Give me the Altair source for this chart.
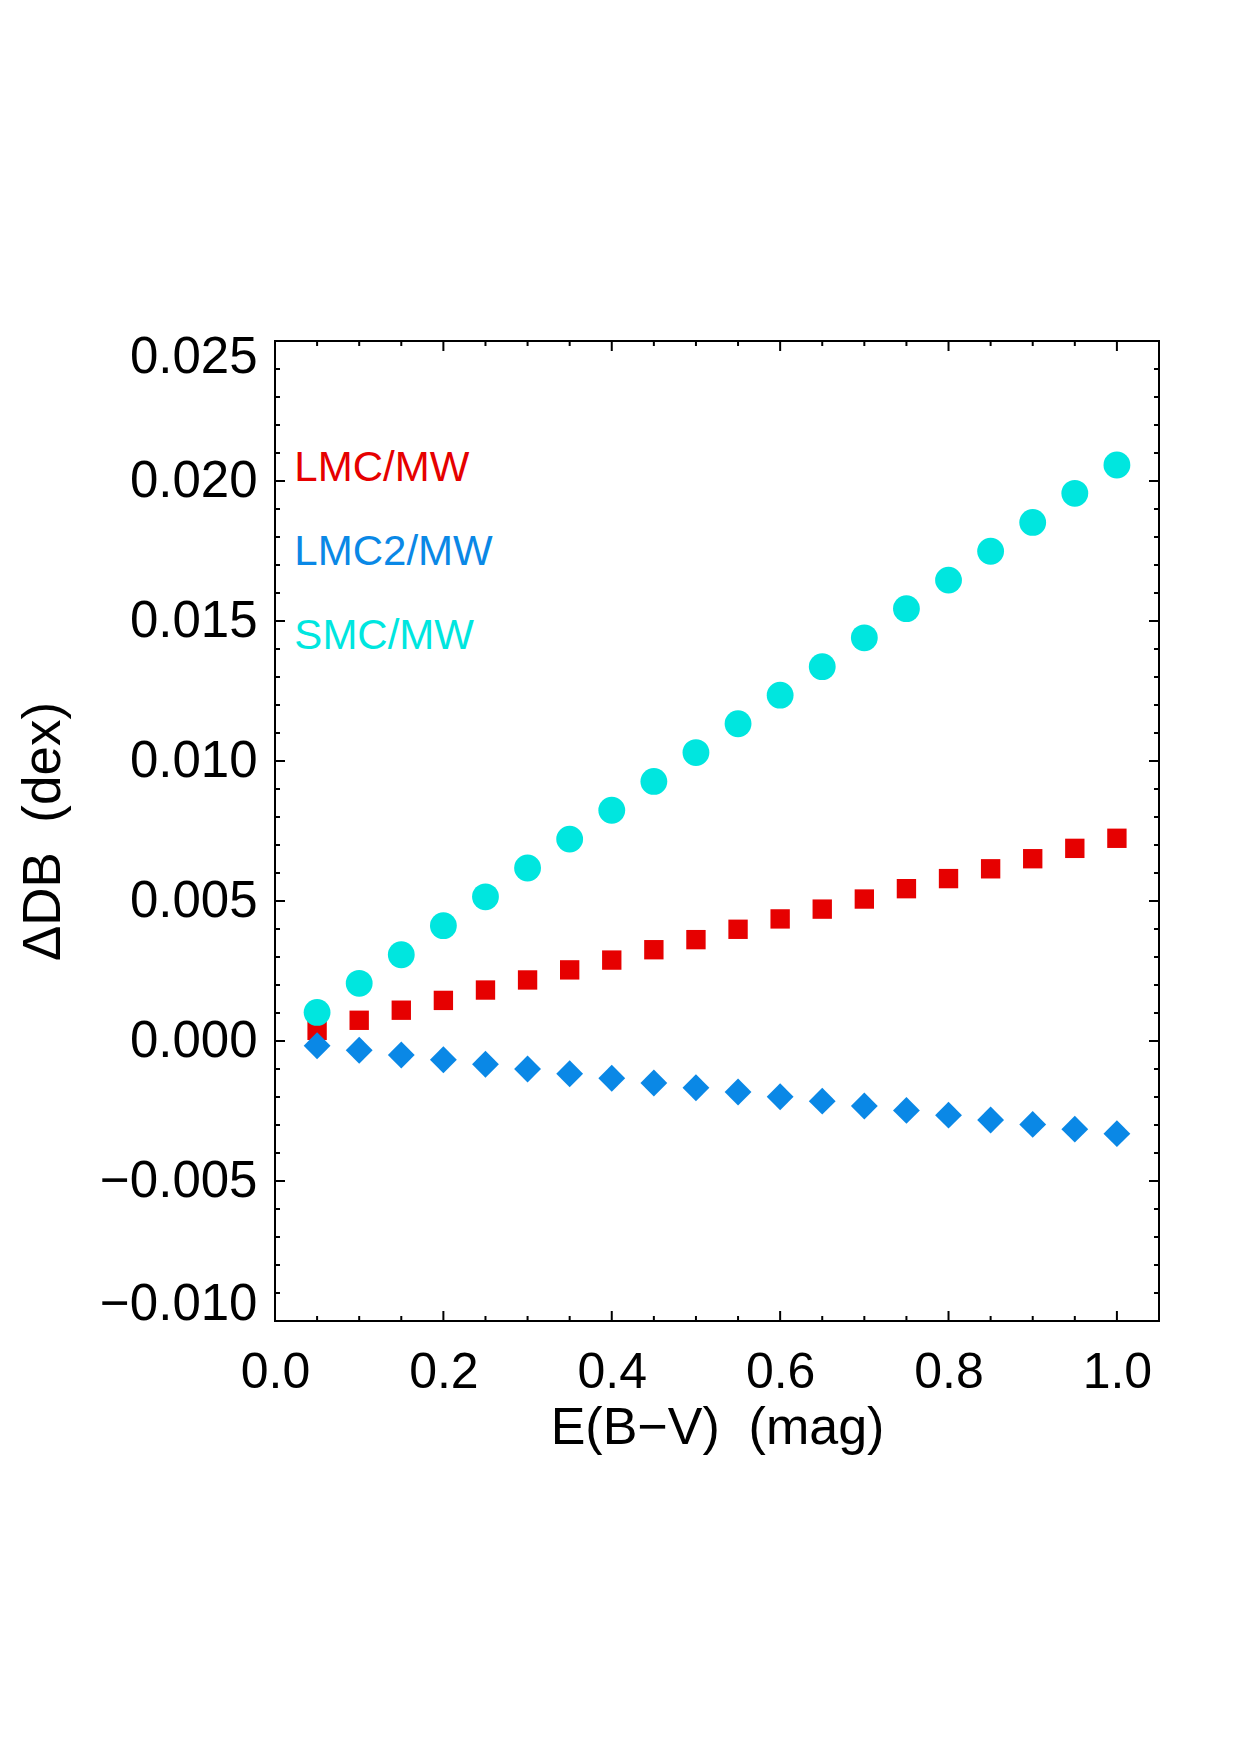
import altair as alt
import pandas as pd

# ---- data ----
ebv = [0.05, 0.10, 0.15, 0.20, 0.25, 0.30, 0.35, 0.40, 0.45, 0.50,
       0.55, 0.60, 0.65, 0.70, 0.75, 0.80, 0.85, 0.90, 0.95, 1.00]
lmc_mw = [0.00038, 0.00074, 0.00110, 0.00145, 0.00182, 0.00218, 0.00254, 0.00289, 0.00326, 0.00362,
          0.00399, 0.00436, 0.00471, 0.00507, 0.00544, 0.00580, 0.00615, 0.00651, 0.00688, 0.00724]
lmc2_mw = [-0.00017, -0.00033, -0.00050, -0.00067, -0.00083, -0.00100, -0.00117, -0.00133, -0.00150, -0.00167,
           -0.00182, -0.00199, -0.00215, -0.00232, -0.00248, -0.00265, -0.00282, -0.00298, -0.00315, -0.00331]
smc_mw = [0.00102, 0.00206, 0.00308, 0.00412, 0.00515, 0.00618, 0.00721, 0.00824, 0.00927, 0.01030,
          0.01133, 0.01235, 0.01337, 0.01440, 0.01544, 0.01646, 0.01749, 0.01852, 0.01956, 0.02057]

series_names = ["LMC/MW", "LMC2/MW", "SMC/MW"]
series_colors = ["#E60000", "#0A88E6", "#00E6DF"]
label_x = [0.023, 0.023, 0.023]
label_y = [0.0200, 0.0170, 0.0140]

x_major = [0.0, 0.2, 0.4, 0.6, 0.8, 1.0]
x_minor = [0.05, 0.10, 0.15, 0.25, 0.30, 0.35, 0.45, 0.50, 0.55, 0.65, 0.70, 0.75, 0.85, 0.90, 0.95]
y_major = [-0.010, -0.005, 0.000, 0.005, 0.010, 0.015, 0.020, 0.025]
y_minor = [round(-0.010 + 0.001 * i, 3) for i in range(36) if i % 5 != 0]

X_TITLE = "E(B\u2212V)\u00a0\u00a0(mag)"
Y_TITLE = "\u0394DB\u00a0\u00a0(dex)"

X_DOMAIN = [0.0, 1.05]
Y_DOMAIN = [-0.010, 0.025]
W, H = 884, 980
FONT = "Liberation Sans"

xs = alt.Scale(domain=X_DOMAIN, nice=False, zero=False)
ys = alt.Scale(domain=Y_DOMAIN, nice=False, zero=False)

x_axis = alt.Axis(values=x_major, format=".1f", ticks=False, tickSize=0, domain=False, grid=False,
                  labelFont=FONT, labelFontSize=50, labelColor="black", labelFlush=False,
                  labelOverlap=False, labelPadding=66, labelBaseline="alphabetic",
                  title=X_TITLE, titleFont=FONT, titleFontSize=52, titleFontWeight="normal",
                  titleColor="black", titleX=W / 2, titleY=122, titleAlign="center",
                  titleBaseline="alphabetic", titleAnchor="middle")
y_axis = alt.Axis(values=y_major, format=".3f", ticks=False, tickSize=0, domain=False, grid=False,
                  labelFont=FONT, labelFontSize=51, labelColor="black", labelFlush=True,
                  labelFlushOffset=9,
                  labelOverlap=False, labelPadding=18,
                  title=Y_TITLE, titleFont=FONT, titleFontSize=53, titleFontWeight="normal",
                  titleColor="black", titleX=-216, titleY=H / 2, titleAngle=270, titleAlign="center",
                  titleBaseline="alphabetic")


def X(field):
    return alt.X(field, scale=xs, axis=x_axis, title=X_TITLE)


def Y(field):
    return alt.Y(field, scale=ys, axis=y_axis, title=Y_TITLE)


df_lmc = pd.DataFrame({"ebv": ebv, "val": lmc_mw})
df_lmc2 = pd.DataFrame({"ebv": ebv, "val": lmc2_mw})
df_smc = pd.DataFrame({"ebv": ebv, "val": smc_mw})

squares = alt.Chart(df_lmc).mark_point(shape="square", filled=True, opacity=1, size=375,
                                       color=series_colors[0], strokeWidth=0).encode(
    x=X("ebv:Q"), y=Y("val:Q"))
diamonds = alt.Chart(df_lmc2).mark_point(shape="diamond", filled=True, opacity=1, size=720,
                                         color=series_colors[1], strokeWidth=0).encode(
    x=X("ebv:Q"), y=Y("val:Q"))
circles = alt.Chart(df_smc).mark_point(shape="circle", filled=True, opacity=1, size=720,
                                       color=series_colors[2], strokeWidth=0).encode(
    x=X("ebv:Q"), y=Y("val:Q"))

labels_df = pd.DataFrame({"name": series_names, "lx": label_x, "ly": label_y})
labels = alt.Chart(labels_df).mark_text(align="left", baseline="alphabetic", font=FONT,
                                        fontSize=42).encode(
    x=X("lx:Q"), y=Y("ly:Q"),
    text="name:N",
    color=alt.Color("name:N", scale=alt.Scale(domain=series_names, range=series_colors), legend=None),
)

MAJ, MIN = 10, 5


def xticks(vals, length):
    d = pd.DataFrame({"t": vals})
    bottom = alt.Chart(d).mark_rule(color="black", strokeWidth=2).encode(
        x=X("t:Q"), y=alt.value(H), y2=alt.value(H - length))
    top = alt.Chart(d).mark_rule(color="black", strokeWidth=2).encode(
        x=X("t:Q"), y=alt.value(0), y2=alt.value(length))
    return [bottom, top]


def yticks(vals, length):
    d = pd.DataFrame({"t": vals})
    left = alt.Chart(d).mark_rule(color="black", strokeWidth=2).encode(
        y=Y("t:Q"), x=alt.value(0), x2=alt.value(length))
    right = alt.Chart(d).mark_rule(color="black", strokeWidth=2).encode(
        y=Y("t:Q"), x=alt.value(W), x2=alt.value(W - length))
    return [left, right]


tick_layers = xticks(x_major, MAJ) + xticks(x_minor, MIN) + yticks(y_major, MAJ) + yticks(y_minor, MIN)

chart = alt.layer(squares, diamonds, circles, labels, *tick_layers).properties(
    width=W, height=H,
    autosize=alt.AutoSizeParams(type="none"),
    padding={"left": 275, "top": 341, "right": 1240 - 275 - W, "bottom": 1755 - 341 - H},
    background="white",
).configure_view(stroke="black", strokeWidth=2)

chart.save("out.html", embed_options={"renderer": "svg", "actions": False})
